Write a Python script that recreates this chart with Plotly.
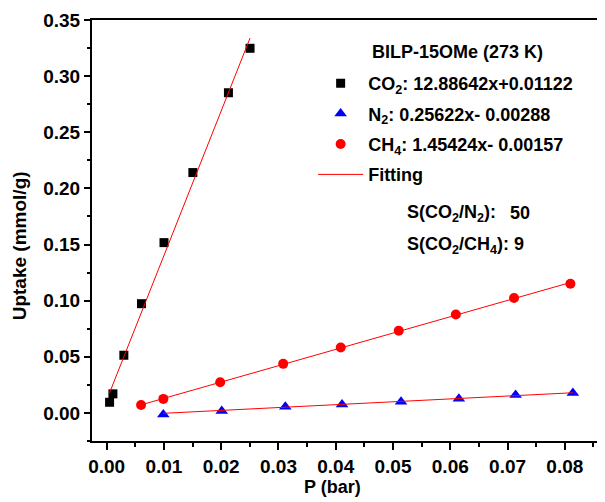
import plotly.graph_objects as go

# ---- data ----
co2_p = [0.00052, 0.0011, 0.00301, 0.00609, 0.01002, 0.01506, 0.02127, 0.02504]
co2_u = [0.0095, 0.0170, 0.0514, 0.0973, 0.1517, 0.2141, 0.2852, 0.3248]

n2_p = [0.0099, 0.0201, 0.0312, 0.0411, 0.0514, 0.0615, 0.0714, 0.0814]
n2_u = [-0.0013, 0.0017, 0.0055, 0.0076, 0.0100, 0.0127, 0.0160, 0.0177]

ch4_p = [0.00602, 0.00991, 0.01983, 0.03083, 0.04087, 0.0510, 0.06097, 0.07113, 0.08097]
ch4_u = [0.0071, 0.0125, 0.0273, 0.0437, 0.0583, 0.0732, 0.0877, 0.1023, 0.1151]

gas_names = ["CO<sub>2</sub>: 12.88642x+0.01122",
             "N<sub>2</sub>: 0.25622x- 0.00288",
             "CH<sub>4</sub>: 1.45424x- 0.00157"]
fit_slopes = [12.88642, 0.25622, 1.45424]
fit_intercepts = [0.01122, -0.00288, -0.00157]

title_text = "BILP-15OMe (273 K)"
sel_labels = ["S(CO<sub>2</sub>/N<sub>2</sub>):", "S(CO<sub>2</sub>/CH<sub>4</sub>): 9"]
sel_value_1 = "50"

FONT = "Liberation Sans, Arial, sans-serif"

fig = go.Figure()

series = [
    (co2_p, co2_u, "square", "black", 9),
    (n2_p, n2_u, "triangle-up", "#0000FF", 11),
    (ch4_p, ch4_u, "circle", "#FF0000", 10),
]

for i, (px_, py_, sym, col, sz) in enumerate(series):
    fig.add_trace(go.Scatter(
        x=px_, y=py_, mode="markers", name=gas_names[i],
        legendgroup=f"g{i}",
        marker=dict(symbol=sym, color=col, size=sz, line=dict(width=0)),
    ))

# fitting lines, from the equations shown in the legend over each data range
for i, (px_, py_, sym, col, sz) in enumerate(series):
    x0, x1 = min(px_), max(px_)
    fig.add_trace(go.Scatter(
        x=[x0, x1],
        y=[fit_slopes[i] * x0 + fit_intercepts[i], fit_slopes[i] * x1 + fit_intercepts[i]],
        mode="lines", name="Fitting", legendgroup="g3",
        showlegend=(i == 0),
        line=dict(color="#FF0000", width=1),
    ))

# page offset of the plot div (body margin)
OFF = 8
W, H = 605 - OFF, 502 - OFF
L, T = 92 - OFF, 20 - OFF
R = 0
B = H - (441 - OFF)
pw, ph = W - L - R, H - T - B

def xp(px):  # page px -> paper
    return (px - OFF - L) / pw

def yp(py):
    return (H - B - (py - OFF)) / ph

bold = dict(family=FONT, size=18, color="black", weight="bold")

fig.update_layout(
    width=W, height=H,
    margin=dict(l=L, r=R, t=T, b=B),
    paper_bgcolor="white", plot_bgcolor="white",
    showlegend=True,
    legend=dict(
        x=xp(314), y=yp(65), xanchor="left", yanchor="top",
        bgcolor="rgba(0,0,0,0)", borderwidth=0, itemwidth=45,
        font=bold, traceorder="grouped", tracegroupgap=4,
    ),
    xaxis=dict(
        range=[-0.00255, 0.08666], showgrid=False, zeroline=False,
        showline=True, linecolor="black", linewidth=2, mirror=True,
        ticks="outside", ticklen=7, tickwidth=2, tickcolor="black",
        dtick=0.01, tick0=0, tickformat=".2f",
        tickfont=dict(family=FONT, size=19, color="black", weight="bold"),
        minor=dict(ticks="outside", ticklen=4, tickwidth=2, tickcolor="black", dtick=0.005, showgrid=False),
    ),
    yaxis=dict(
        range=[-0.025, 0.35], showgrid=False, zeroline=False,
        showline=True, linecolor="black", linewidth=2, mirror=True,
        ticks="outside", ticklen=6, tickwidth=2, tickcolor="black",
        dtick=0.05, tick0=0, tickformat=".2f",
        tickfont=dict(family=FONT, size=19, color="black", weight="bold"),
        minor=dict(ticks="outside", ticklen=3, tickwidth=2, tickcolor="black", dtick=0.025, showgrid=False),
    ),
    annotations=[
        dict(text=title_text, xref="paper", yref="paper", x=xp(371), y=yp(52),
             xanchor="left", yanchor="middle", showarrow=False, font=bold),
        dict(text=sel_labels[0], xref="paper", yref="paper", x=xp(406), y=yp(213),
             xanchor="left", yanchor="middle", showarrow=False, font=bold),
        dict(text=sel_value_1, xref="paper", yref="paper", x=xp(510), y=yp(213),
             xanchor="left", yanchor="middle", showarrow=False, font=bold),
        dict(text=sel_labels[1], xref="paper", yref="paper", x=xp(406), y=yp(245),
             xanchor="left", yanchor="middle", showarrow=False, font=bold),
        dict(text="P (bar)", xref="paper", yref="paper", x=xp(333), y=yp(487),
             xanchor="center", yanchor="middle", showarrow=False, font=bold),
        dict(text="Uptake (mmol/g)", xref="paper", yref="paper", x=xp(19), y=yp(246),
             xanchor="center", yanchor="middle", showarrow=False,
             font=dict(family=FONT, size=19, color="black", weight="bold"), textangle=-90),
    ],
)

fig.write_html("out.html")
